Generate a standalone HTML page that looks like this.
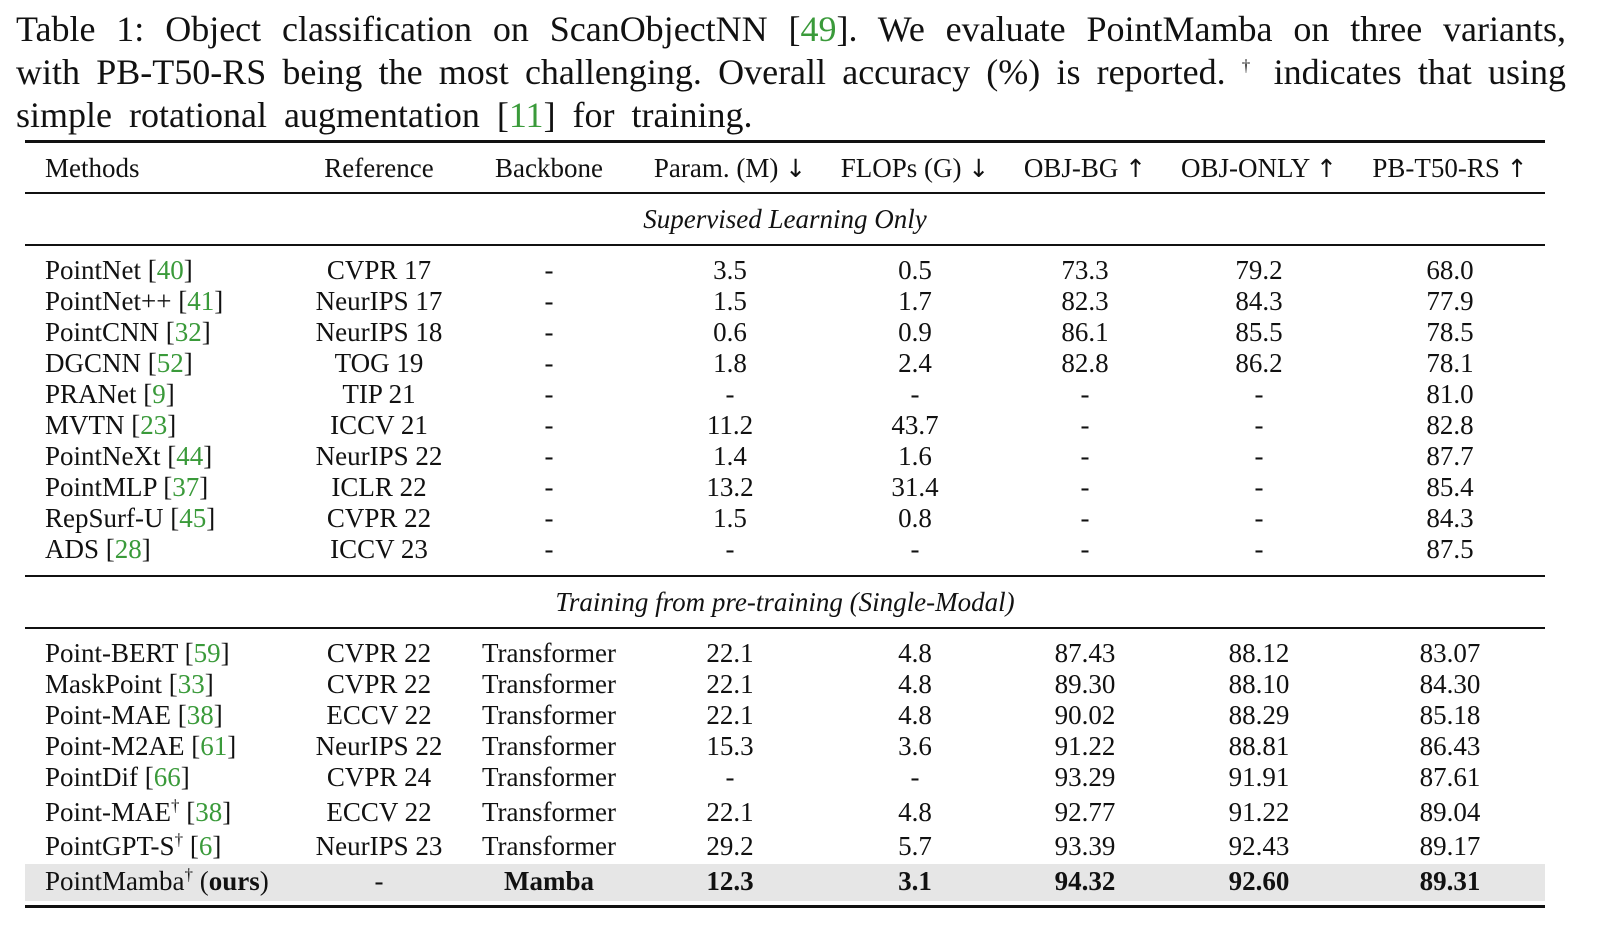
<!DOCTYPE html>
<html><head><meta charset="utf-8"><style>
body{margin:0;width:1608px;height:940px;background:#fff;font-family:"Liberation Serif",serif;color:#111;position:relative;overflow:hidden}
.cap{position:absolute;left:16px;width:1550px;font-size:36px;line-height:43px;white-space:nowrap}
.j{text-align:justify;text-align-last:justify}
.g{color:#3a9a3a}
.rule{position:absolute;left:25px;width:1520px;background:#111}
.row{position:absolute;left:0;width:1608px;height:30px;line-height:30px;font-size:27px}
.row span{position:absolute;transform:translateX(-50%);white-space:nowrap}
.row span.c1{left:45px;transform:none}
.row span span{position:static;transform:none}
.c2{left:379px}.c3{left:549px}.c4{left:730px}.c5{left:915px}.c6{left:1085px}.c7{left:1259px}.c8{left:1450px}
.sec{position:absolute;left:0;width:1570px;text-align:center;font-style:italic;font-size:27px;line-height:30px}
sup{font-size:17px;line-height:0}
b{font-weight:bold}
i.a{font-style:normal;font-family:"DejaVu Sans",sans-serif;font-size:25px}
</style></head><body>
<div class="cap j" style="top:8px">Table 1: Object classification on ScanObjectNN [<span class="g">49</span>]. We evaluate PointMamba on three variants,</div>
<div class="cap j" style="top:51px">with PB-T50-RS being the most challenging. Overall accuracy (%) is reported. <sup>†</sup> indicates that using</div>
<div class="cap" style="top:94px;word-spacing:8px">simple rotational augmentation [<span class="g">11</span>] for training.</div>
<div class="rule" style="top:140px;height:3px"></div>
<div class="row" style="top:153px"><span class="c1">Methods</span><span class="c2">Reference</span><span class="c3">Backbone</span><span class="c4">Param. (M) <i class="a">↓</i></span><span class="c5">FLOPs (G) <i class="a">↓</i></span><span class="c6">OBJ-BG <i class="a">↑</i></span><span class="c7">OBJ-ONLY <i class="a">↑</i></span><span class="c8">PB-T50-RS <i class="a">↑</i></span></div>
<div class="rule" style="top:192px;height:2px"></div>
<div class="sec" style="top:204px">Supervised Learning Only</div>
<div class="rule" style="top:244px;height:2px"></div>
<div class="row" style="top:255px"><span class="c1">PointNet [<span class="g">40</span>]</span><span class="c2">CVPR 17</span><span class="c3">-</span><span class="c4">3.5</span><span class="c5">0.5</span><span class="c6">73.3</span><span class="c7">79.2</span><span class="c8">68.0</span></div>
<div class="row" style="top:286px"><span class="c1">PointNet++ [<span class="g">41</span>]</span><span class="c2">NeurIPS 17</span><span class="c3">-</span><span class="c4">1.5</span><span class="c5">1.7</span><span class="c6">82.3</span><span class="c7">84.3</span><span class="c8">77.9</span></div>
<div class="row" style="top:317px"><span class="c1">PointCNN [<span class="g">32</span>]</span><span class="c2">NeurIPS 18</span><span class="c3">-</span><span class="c4">0.6</span><span class="c5">0.9</span><span class="c6">86.1</span><span class="c7">85.5</span><span class="c8">78.5</span></div>
<div class="row" style="top:348px"><span class="c1">DGCNN [<span class="g">52</span>]</span><span class="c2">TOG 19</span><span class="c3">-</span><span class="c4">1.8</span><span class="c5">2.4</span><span class="c6">82.8</span><span class="c7">86.2</span><span class="c8">78.1</span></div>
<div class="row" style="top:379px"><span class="c1">PRANet [<span class="g">9</span>]</span><span class="c2">TIP 21</span><span class="c3">-</span><span class="c4">-</span><span class="c5">-</span><span class="c6">-</span><span class="c7">-</span><span class="c8">81.0</span></div>
<div class="row" style="top:410px"><span class="c1">MVTN [<span class="g">23</span>]</span><span class="c2">ICCV 21</span><span class="c3">-</span><span class="c4">11.2</span><span class="c5">43.7</span><span class="c6">-</span><span class="c7">-</span><span class="c8">82.8</span></div>
<div class="row" style="top:441px"><span class="c1">PointNeXt [<span class="g">44</span>]</span><span class="c2">NeurIPS 22</span><span class="c3">-</span><span class="c4">1.4</span><span class="c5">1.6</span><span class="c6">-</span><span class="c7">-</span><span class="c8">87.7</span></div>
<div class="row" style="top:472px"><span class="c1">PointMLP [<span class="g">37</span>]</span><span class="c2">ICLR 22</span><span class="c3">-</span><span class="c4">13.2</span><span class="c5">31.4</span><span class="c6">-</span><span class="c7">-</span><span class="c8">85.4</span></div>
<div class="row" style="top:503px"><span class="c1">RepSurf-U [<span class="g">45</span>]</span><span class="c2">CVPR 22</span><span class="c3">-</span><span class="c4">1.5</span><span class="c5">0.8</span><span class="c6">-</span><span class="c7">-</span><span class="c8">84.3</span></div>
<div class="row" style="top:534px"><span class="c1">ADS [<span class="g">28</span>]</span><span class="c2">ICCV 23</span><span class="c3">-</span><span class="c4">-</span><span class="c5">-</span><span class="c6">-</span><span class="c7">-</span><span class="c8">87.5</span></div>
<div class="rule" style="top:575px;height:2px"></div>
<div class="sec" style="top:587px">Training from pre-training (Single-Modal)</div>
<div class="rule" style="top:627px;height:2px"></div>
<div class="row" style="top:638px"><span class="c1">Point-BERT [<span class="g">59</span>]</span><span class="c2">CVPR 22</span><span class="c3">Transformer</span><span class="c4">22.1</span><span class="c5">4.8</span><span class="c6">87.43</span><span class="c7">88.12</span><span class="c8">83.07</span></div>
<div class="row" style="top:669px"><span class="c1">MaskPoint [<span class="g">33</span>]</span><span class="c2">CVPR 22</span><span class="c3">Transformer</span><span class="c4">22.1</span><span class="c5">4.8</span><span class="c6">89.30</span><span class="c7">88.10</span><span class="c8">84.30</span></div>
<div class="row" style="top:700px"><span class="c1">Point-MAE [<span class="g">38</span>]</span><span class="c2">ECCV 22</span><span class="c3">Transformer</span><span class="c4">22.1</span><span class="c5">4.8</span><span class="c6">90.02</span><span class="c7">88.29</span><span class="c8">85.18</span></div>
<div class="row" style="top:731px"><span class="c1">Point-M2AE [<span class="g">61</span>]</span><span class="c2">NeurIPS 22</span><span class="c3">Transformer</span><span class="c4">15.3</span><span class="c5">3.6</span><span class="c6">91.22</span><span class="c7">88.81</span><span class="c8">86.43</span></div>
<div class="row" style="top:762px"><span class="c1">PointDif [<span class="g">66</span>]</span><span class="c2">CVPR 24</span><span class="c3">Transformer</span><span class="c4">-</span><span class="c5">-</span><span class="c6">93.29</span><span class="c7">91.91</span><span class="c8">87.61</span></div>
<div class="row" style="top:797px"><span class="c1">Point-MAE<sup>†</sup> [<span class="g">38</span>]</span><span class="c2">ECCV 22</span><span class="c3">Transformer</span><span class="c4">22.1</span><span class="c5">4.8</span><span class="c6">92.77</span><span class="c7">91.22</span><span class="c8">89.04</span></div>
<div class="row" style="top:831px"><span class="c1">PointGPT-S<sup>†</sup> [<span class="g">6</span>]</span><span class="c2">NeurIPS 23</span><span class="c3">Transformer</span><span class="c4">29.2</span><span class="c5">5.7</span><span class="c6">93.39</span><span class="c7">92.43</span><span class="c8">89.17</span></div>
<div style="position:absolute;left:25px;top:864px;width:1520px;height:37px;background:#e6e6e6"></div>
<div class="row" style="top:866px"><span class="c1">PointMamba<sup>†</sup> (<b>ours</b>)</span><span class="c2">-</span><span class="c3"><b>Mamba</b></span><span class="c4"><b>12.3</b></span><span class="c5"><b>3.1</b></span><span class="c6"><b>94.32</b></span><span class="c7"><b>92.60</b></span><span class="c8"><b>89.31</b></span></div>
<div class="rule" style="top:905px;height:3px"></div>
</body></html>
